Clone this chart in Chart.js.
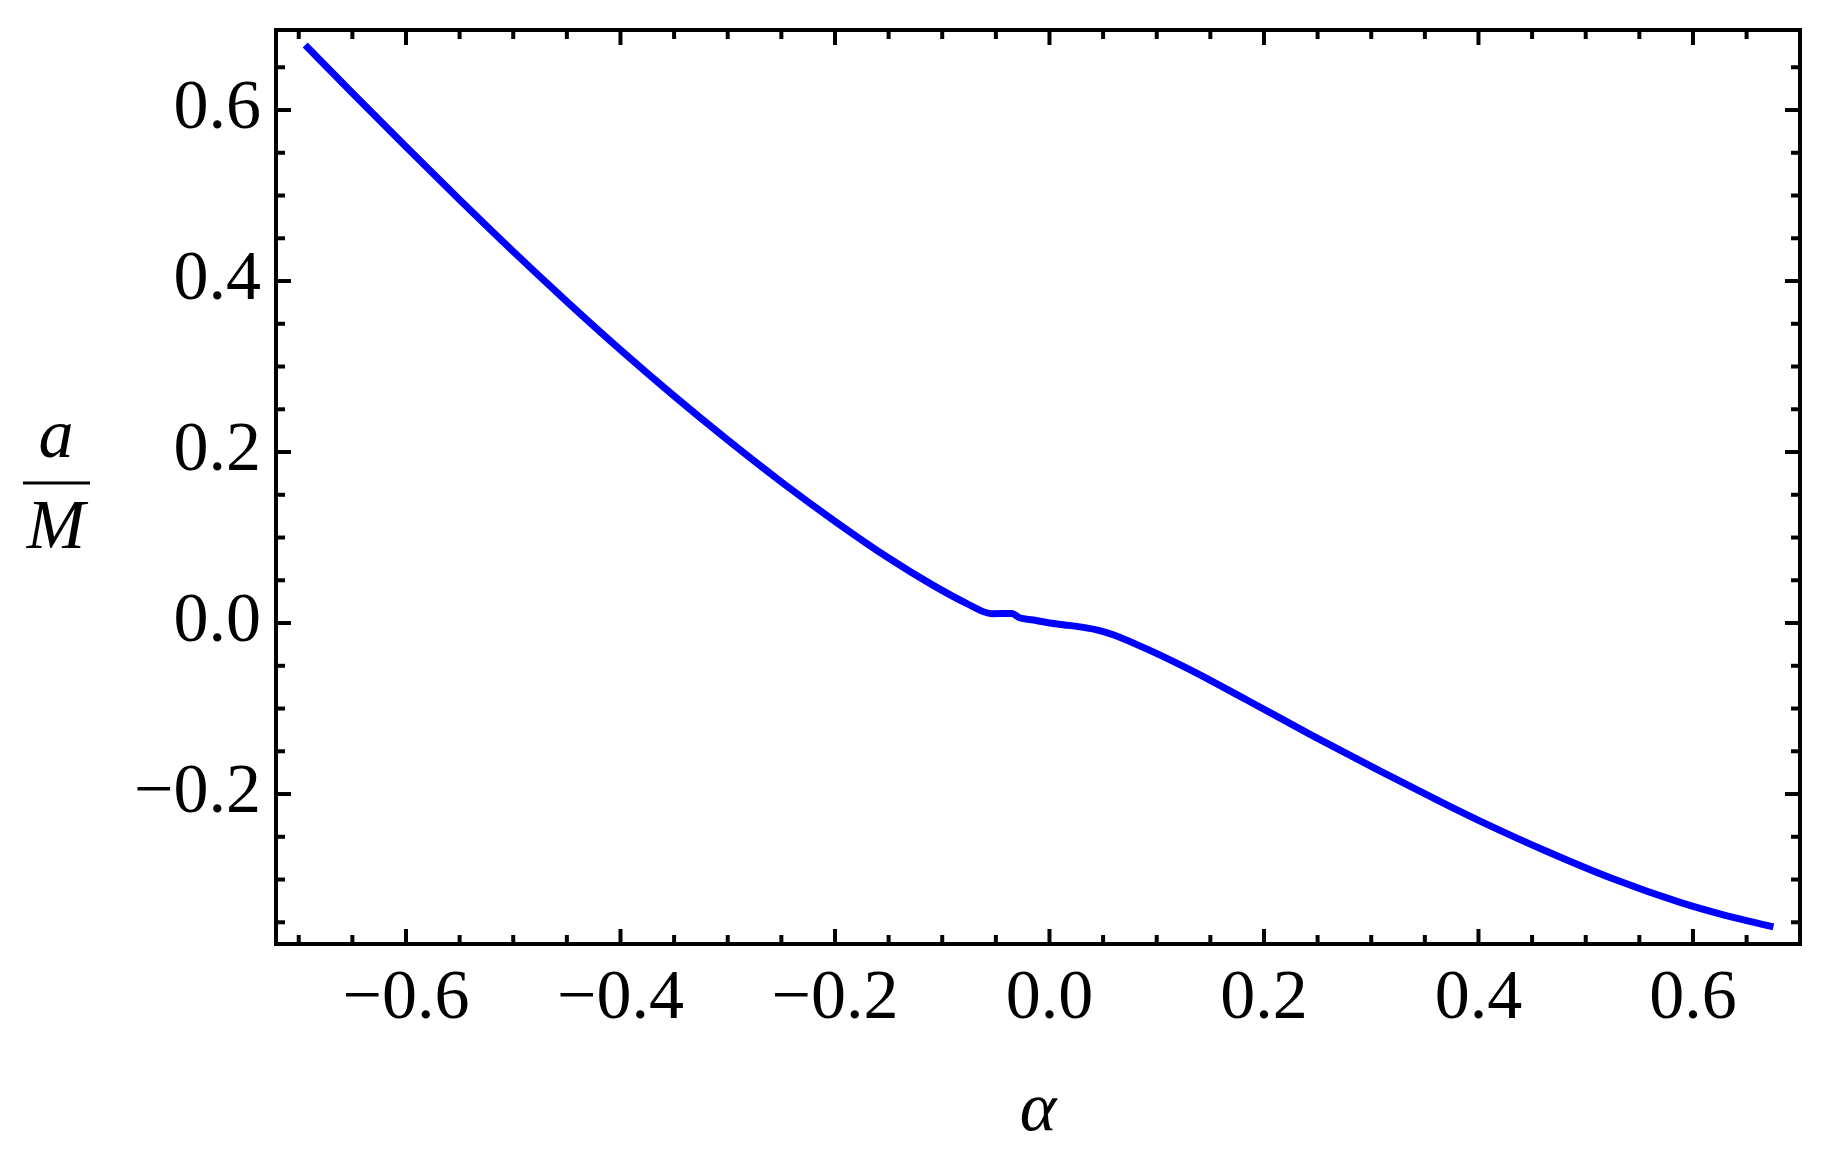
<!DOCTYPE html>
<html>
<head>
<meta charset="utf-8">
<script src="https://cdn.jsdelivr.net/npm/chart.js@4/dist/chart.umd.min.js"></script>
<style>
	html, body { margin: 0; padding: 0; background: #fff; }
</style>
</head>
<body>
<canvas id="grafica" width="1827" height="1152"></canvas>
<script>
// valores
const alphaVals = [-0.694, -0.65, -0.6, -0.55, -0.5, -0.45, -0.4, -0.35, -0.3, -0.25, -0.2, -0.15, -0.11, -0.077, -0.054, -0.035, -0.028, -0.015, 0, 0.02, 0.044, 0.06, 0.09, 0.122, 0.15, 0.184, 0.246, 0.308, 0.37, 0.401, 0.464, 0.526, 0.588, 0.63, 0.675];
const aOverM = [0.676, 0.62, 0.557, 0.495, 0.4345, 0.376, 0.3195, 0.2655, 0.214, 0.165, 0.119, 0.076, 0.0452, 0.0228, 0.011, 0.0112, 0.0062, 0.0035, 0.0, -0.003, -0.008, -0.014, -0.03, -0.049, -0.067, -0.09, -0.1322, -0.173, -0.2124, -0.2313, -0.2672, -0.2994, -0.3267, -0.3418, -0.3553];

const xMajor = [-0.6, -0.4, -0.2, 0, 0.2, 0.4, 0.6];
const xMinor = [-0.7, -0.65, -0.55, -0.5, -0.45, -0.35, -0.3, -0.25, -0.15, -0.1, -0.05, 0.05, 0.1, 0.15, 0.25, 0.3, 0.35, 0.45, 0.5, 0.55, 0.65];
const yMajor = [-0.2, 0, 0.2, 0.4, 0.6];
const yMinor = [-0.35, -0.3, -0.25, -0.15, -0.1, -0.05, 0.05, 0.1, 0.15, 0.25, 0.3, 0.35, 0.45, 0.5, 0.55, 0.65];

const fuente = "'Liberation Serif', 'DejaVu Serif', serif";

function etiqueta(v) {
	const s = Math.abs(v).toFixed(1);
	return v < -1e-9 ? '\u2212' + s : s;
}

// marco con ticks hacia adentro y titulos de ejes
const marcoPlugin = {
	id: 'marco',
	afterDatasetsDraw(chart) {
		const ctx = chart.ctx;
		const area = chart.chartArea;
		const xs = chart.scales.x;
		const ys = chart.scales.y;
		ctx.save();
		ctx.strokeStyle = '#000';
		ctx.lineWidth = 4;
		ctx.lineCap = 'butt';

		const tick = (x1, y1, x2, y2) => {
			ctx.beginPath();
			ctx.moveTo(x1, y1);
			ctx.lineTo(x2, y2);
			ctx.stroke();
		};

		xMajor.forEach((v) => {
			const px = xs.getPixelForValue(v);
			tick(px, area.bottom, px, area.bottom - 15);
			tick(px, area.top, px, area.top + 15);
		});
		xMinor.forEach((v) => {
			const px = xs.getPixelForValue(v);
			tick(px, area.bottom, px, area.bottom - 9);
			tick(px, area.top, px, area.top + 9);
		});
		yMajor.forEach((v) => {
			const py = ys.getPixelForValue(v);
			tick(area.left, py, area.left + 15, py);
			tick(area.right, py, area.right - 15, py);
		});
		yMinor.forEach((v) => {
			const py = ys.getPixelForValue(v);
			tick(area.left, py, area.left + 9, py);
			tick(area.right, py, area.right - 9, py);
		});

		ctx.strokeRect(area.left, area.top, area.right - area.left, area.bottom - area.top);

		// titulo eje x
		ctx.fillStyle = '#000';
		ctx.textAlign = 'center';
		ctx.textBaseline = 'alphabetic';
		ctx.font = 'italic 70px ' + fuente;
		ctx.fillText('\u03b1', (area.left + area.right) / 2, 1130);

		// titulo eje y: a / M
		const cx = 56;
		const barY = (area.top + area.bottom) / 2 - 4;
		ctx.fillText('a', cx, barY - 26);
		ctx.fillText('M', cx, barY + 65);
		ctx.lineWidth = 3;
		tick(23, barY, 90, barY);
		ctx.restore();
	},
};

const ctx = document.querySelector('#grafica');
const chart = new Chart(ctx, {
	type: 'scatter',
	data: {
		datasets: [
			{
				label: 'a/M',
				data: alphaVals.map((a, i) => ({ x: a, y: aOverM[i] })),
				showLine: true,
				borderColor: '#0000ff',
				backgroundColor: '#0000ff',
				borderWidth: 7,
				pointRadius: 0,
				cubicInterpolationMode: 'monotone',
			},
		],
	},
	options: {
		responsive: false,
		animation: false,
		layout: { padding: { top: 30, right: 27, left: 0, bottom: 0 } },
		plugins: { legend: { display: false }, tooltip: { enabled: false } },
		scales: {
			x: {
				type: 'linear',
				min: -0.7212,
				max: 0.6998,
				afterFit: (scale) => {
					scale.height = 208;
					scale.paddingLeft = 0;
					scale.paddingRight = 0;
				},
				afterBuildTicks: (scale) => { scale.ticks = xMajor.map((v) => ({ value: v })); },
				grid: { display: false, drawTicks: false },
				border: { display: false },
				ticks: {
					padding: 14,
					color: '#000',
					font: { family: fuente, size: 70 },
					maxRotation: 0,
					callback: (v) => etiqueta(v),
				},
			},
			y: {
				type: 'linear',
				min: -0.3754,
				max: 0.6936,
				afterFit: (scale) => {
					scale.width = 276;
					scale.paddingTop = 0;
					scale.paddingBottom = 0;
				},
				afterBuildTicks: (scale) => { scale.ticks = yMajor.map((v) => ({ value: v })); },
				grid: { display: false, drawTicks: false },
				border: { display: false },
				ticks: {
					padding: 15,
					color: '#000',
					font: { family: fuente, size: 70 },
					callback: (v) => etiqueta(v),
				},
			},
		},
	},
	plugins: [marcoPlugin],
});
</script>
</body>
</html>
